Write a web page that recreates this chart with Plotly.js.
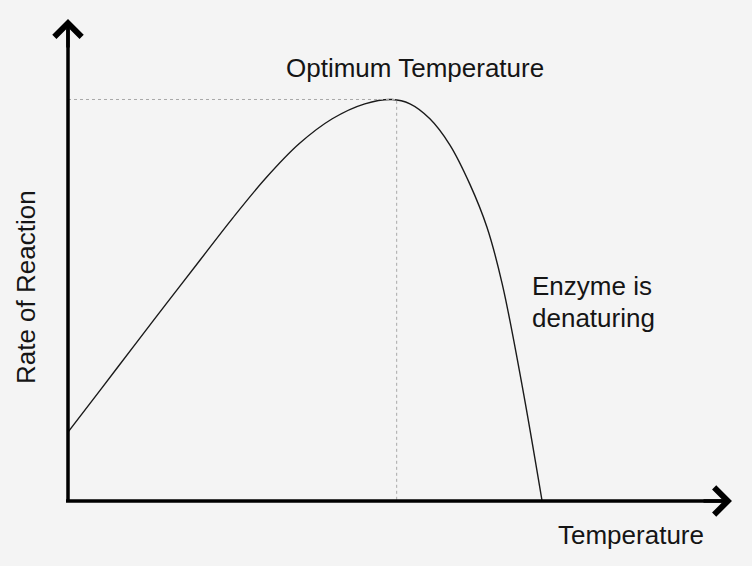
<!DOCTYPE html>
<html>
<head>
<meta charset="utf-8">
<script src="https://cdn.plot.ly/plotly-3.0.1.min.js"></script>
<style>html,body{margin:0;padding:0;background:#f4f4f4;}#chart{width:752px;height:566px;}</style>
</head>
<body>
<div id="chart"></div>
<script>
// Temperature (arbitrary units, 0-100) and rate of reaction (arbitrary units, 0-100)
const temperature = [0, 4.97, 9.94, 14.9, 19.9, 24.8, 29.8, 34.8, 39.8, 44.7, 48.8, 51.5, 54.5, 57.5, 60.5, 63.1, 65.4, 68.4, 71.4];
const rate        = [14.3, 23.2, 32.2, 41.1, 50.0, 58.7, 67.0, 74.1, 79.3, 82.4, 83.3, 82.4, 79.3, 73.9, 65.8, 56.8, 45.0, 23.9, 0];
const optimumTemp = 49.5;
const optimumRate = 83.3;

const labels = {
  optimum: 'Optimum Temperature',
  denature1: 'Enzyme is',
  denature2: 'denaturing',
  xTitle: 'Temperature',
  yTitle: 'Rate of Reaction'
};

const font = {family: 'Liberation Sans, Arial, sans-serif', size: 26, color: '#151515'};

const traces = [
  {
    x: temperature, y: rate, mode: 'lines', type: 'scatter',
    line: {color: '#1a1a1a', width: 1.4, shape: 'spline', smoothing: 1},
    hoverinfo: 'skip', showlegend: false
  },
  {
    x: [0, optimumTemp, optimumTemp], y: [optimumRate, optimumRate, 0],
    mode: 'lines', type: 'scatter',
    line: {color: '#a8a8a8', width: 1, dash: 'dot'},
    hoverinfo: 'skip', showlegend: false
  }
];

const layout = {
  width: 752, height: 566,
  margin: {l: 68, r: 20, t: 19, b: 65},
  paper_bgcolor: '#f4f4f4', plot_bgcolor: '#f4f4f4',
  xaxis: {range: [0, 100], showgrid: false, zeroline: false, showticklabels: false, showline: false, ticks: ''},
  yaxis: {range: [0, 100], showgrid: false, zeroline: false, showticklabels: false, showline: false, ticks: ''},
  shapes: [
    {type: 'line', xref: 'paper', yref: 'paper', x0: -0.003, y0: 0, x1: 0.985, y1: 0, line: {color: '#000', width: 3.5}},
    {type: 'line', xref: 'paper', yref: 'paper', x0: 0, y0: 0, x1: 0, y1: 0.98, line: {color: '#000', width: 3.5}}
  ],
  annotations: [
    {xref: 'paper', yref: 'paper', x: 1.0, y: 0, ax: -30, ay: 0, text: '', showarrow: true,
     arrowhead: 4, arrowsize: 1.5, arrowwidth: 3.5, arrowcolor: '#000'},
    {xref: 'paper', yref: 'paper', x: 0, y: 1.0, ax: 0, ay: 30, text: '', showarrow: true,
     arrowhead: 4, arrowsize: 1.5, arrowwidth: 3.5, arrowcolor: '#000'},
    {xref: 'paper', yref: 'paper', x: 0.5226, y: 0.898, text: labels.optimum, showarrow: false, font: font, xanchor: 'center', yanchor: 'middle'},
    {xref: 'paper', yref: 'paper', x: 0.696, y: 0.446, text: labels.denature1, showarrow: false, font: font, xanchor: 'left', yanchor: 'middle'},
    {xref: 'paper', yref: 'paper', x: 0.696, y: 0.380, text: labels.denature2, showarrow: false, font: font, xanchor: 'left', yanchor: 'middle'},
    {xref: 'paper', yref: 'paper', x: 0.848, y: -0.0705, text: labels.xTitle, showarrow: false, font: font, xanchor: 'center', yanchor: 'middle'},
    {xref: 'paper', yref: 'paper', x: -0.0632, y: 0.444, text: labels.yTitle, showarrow: false, font: font, textangle: -90, xanchor: 'center', yanchor: 'middle'}
  ]
};

Plotly.newPlot('chart', traces, layout, {staticPlot: true, displayModeBar: false});
</script>
</body>
</html>
